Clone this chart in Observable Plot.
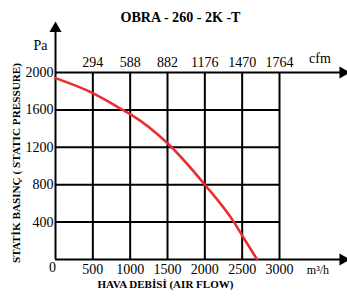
<!DOCTYPE html>
<html>
<head>
<meta charset="utf-8">
<script src="https://cdn.jsdelivr.net/npm/d3@7"></script>
<script src="https://cdn.jsdelivr.net/npm/@observablehq/plot@0.6"></script>
<style>
  html, body { margin: 0; padding: 0; background: #fff; }
  #chart svg { display: block; }
  #chart svg, #chart svg text { font-family: "Liberation Serif", "Times New Roman", serif !important; }
</style>
</head>
<body>
<div id="chart"></div>
<script>
const chartTitle = "OBRA - 260 - 2K -T";
const yTitle = "STATİK BASINÇ ( STATIC PRESSURE)";
const xTitle = "HAVA DEBİSİ (AIR FLOW)";
const flowTicks = [500, 1000, 1500, 2000, 2500, 3000];
const cfmTicks = [294, 588, 882, 1176, 1470, 1764];
const pressureTicks = [400, 800, 1200, 1600, 2000];
const curveFlow = [0, 500, 900, 1000, 1500, 2000, 2390, 2500, 2700];
const curvePressure = [1940, 1780, 1600, 1555, 1243, 800, 400, 257, 0];

const curve = curveFlow.map((f, i) => ({flow: f, pressure: curvePressure[i]}));
const cfm = flowTicks.map((f, i) => ({flow: f, label: cfmTicks[i]}));

const xEnd = 3850, yEnd = 2470;
const serif = "Liberation Serif";

const chart = Plot.plot({
  width: 347,
  height: 300,
  marginLeft: 55,
  marginRight: 68,
  marginTop: 72,
  marginBottom: 41,
  x: {domain: [0, 3000], axis: null},
  y: {domain: [0, 2000], axis: null},
  style: {fontSize: "14px", color: "#000", background: "#fff"},
  marks: [
    Plot.ruleX(flowTicks, {y1: 0, y2: 2000, stroke: "#000", strokeWidth: 2}),
    Plot.ruleY(pressureTicks.slice(0, -1), {x1: 0, x2: 3000, stroke: "#000", strokeWidth: 2}),
    Plot.ruleY([0, 2000], {x1: 0, x2: xEnd, stroke: "#000", strokeWidth: 2}),
    Plot.ruleX([0], {y1: 0, y2: yEnd, stroke: "#000", strokeWidth: 2}),
    Plot.dot([0, 2000], {x: xEnd, y: d => d, symbol: "triangle", rotate: 90, r: 4.5, fill: "#000", stroke: null}),
    Plot.dot([0], {x: 0, y: yEnd, symbol: "triangle", r: 4.5, fill: "#000", stroke: null}),
    Plot.line(curve, {x: "flow", y: "pressure", stroke: "#ee2a2a", strokeWidth: 2.5, curve: "monotone-x"}),
    Plot.text(pressureTicks, {x: 0, y: d => d, text: d => String(d), textAnchor: "end", dx: -2, fontSize: 14, fontFamily: serif}),
    Plot.text(flowTicks, {x: d => d, y: 0, text: d => String(d), dy: 10, fontSize: 14, fontFamily: serif}),
    Plot.text(["0"], {x: 0, y: 0, text: d => d, dx: -3, dy: 8, fontSize: 14, fontFamily: serif}),
    Plot.text(cfm, {x: "flow", y: 2000, text: d => String(d.label), dy: -10, fontSize: 14, fontFamily: serif}),
    Plot.text(["Pa"], {x: 0, y: 2000, text: d => d, dx: -15, dy: -27, fontSize: 14, fontFamily: serif}),
    Plot.text(["cfm"], {x: xEnd, y: 2000, text: d => d, dx: -23, dy: -14, fontSize: 14, fontFamily: serif}),
    Plot.text(["m³/h"], {x: xEnd, y: 0, text: d => d, dx: -25, dy: 11, fontSize: 12, fontFamily: serif}),
    Plot.text([chartTitle], {frameAnchor: "top", textAnchor: "middle", text: d => d, dx: 13, dy: -60, fontWeight: "bold", fontSize: 14, fontFamily: serif}),
    Plot.text([xTitle], {frameAnchor: "bottom", textAnchor: "middle", text: d => d, dx: -2, dy: 28, fontWeight: "bold", fontSize: 10, fontFamily: serif}),
    Plot.text([yTitle], {frameAnchor: "left", textAnchor: "middle", text: d => d, dx: -39, dy: -3, rotate: -90, fontWeight: "bold", fontSize: 10, fontFamily: serif})
  ]
});
const fits = {[chartTitle]: 120, [xTitle]: 136, [yTitle]: 200};
d3.select(chart).selectAll("text").each(function() {
  const t = this.textContent;
  if (fits[t]) {
    this.setAttribute("textLength", fits[t]);
    this.setAttribute("lengthAdjust", "spacingAndGlyphs");
  }
});
document.getElementById("chart").appendChild(chart);
</script>
</body>
</html>
